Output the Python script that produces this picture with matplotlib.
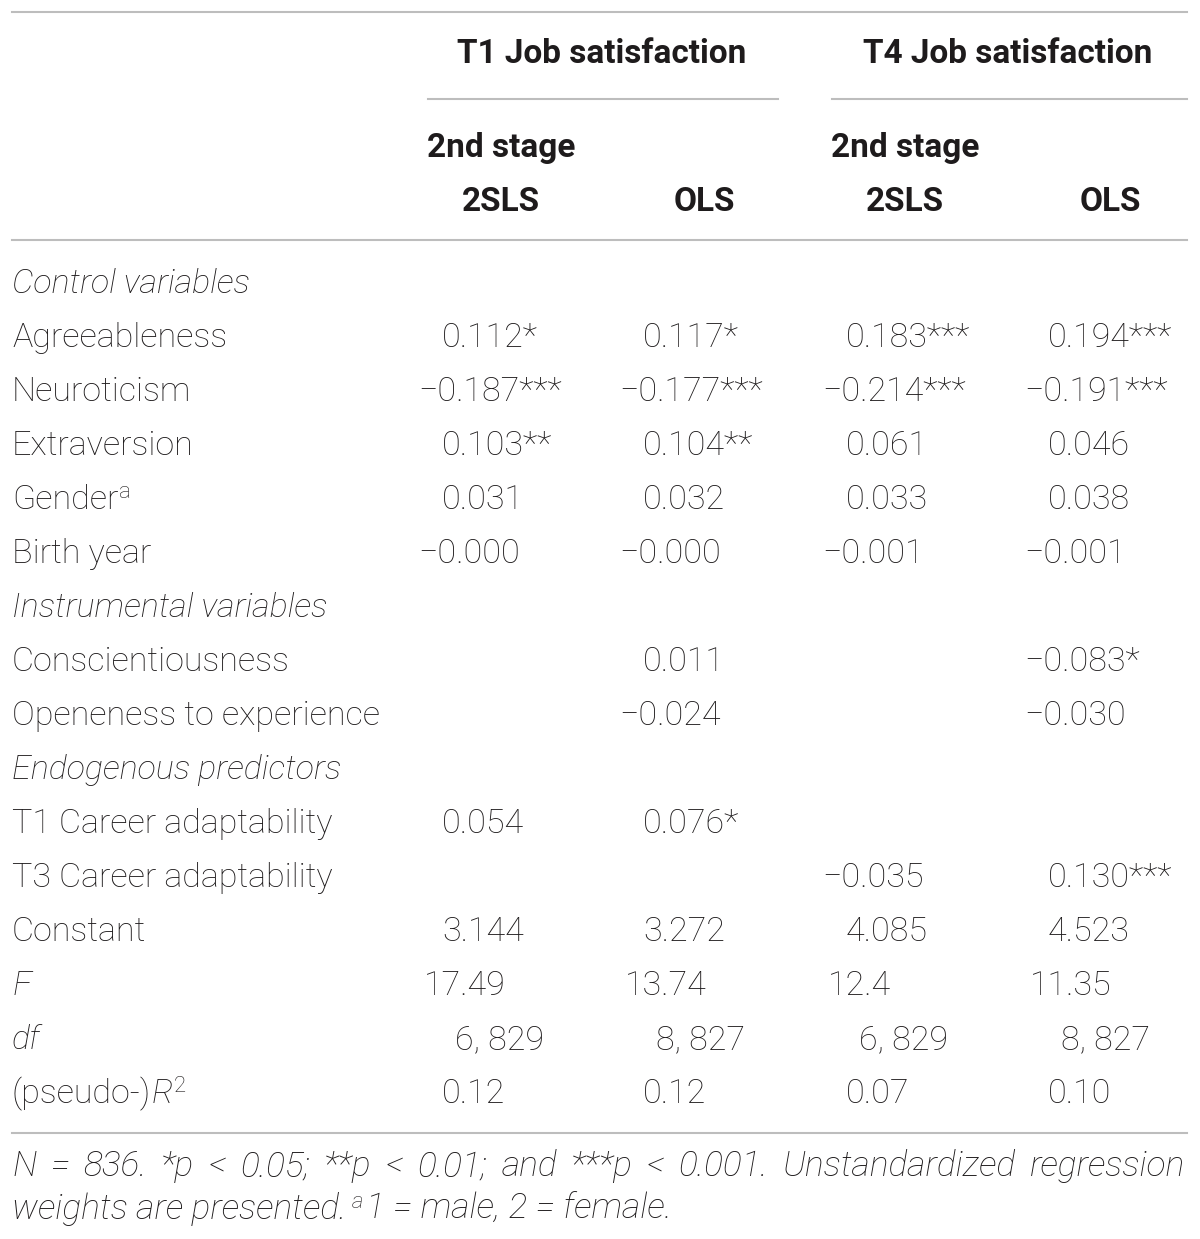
import matplotlib
matplotlib.use("Agg")
import matplotlib.pyplot as plt

# table content
row_labels = ["Control variables", "Agreeableness", "Neuroticism", "Extraversion",
              "Gender", "Birth year", "Instrumental variables", "Conscientiousness",
              "Openeness to experience", "Endogenous predictors", "T1 Career adaptability",
              "T3 Career adaptability", "Constant", "F", "df", "(pseudo-)"]
italic_rows = ["Control variables", "Instrumental variables", "Endogenous predictors", "F", "df"]
label_sup = {"Gender": "a"}

t1_2sls = ["", "0.112*", "\u22120.187***", "0.103**", "0.031", "\u22120.000", "", "", "",
           "", "0.054", "", "3.144", "17.49", "6, 829", "0.12"]
t1_ols = ["", "0.117*", "\u22120.177***", "0.104**", "0.032", "\u22120.000", "", "0.011",
          "\u22120.024", "", "0.076*", "", "3.272", "13.74", "8, 827", "0.12"]
t4_2sls = ["", "0.183***", "\u22120.214***", "0.061", "0.033", "\u22120.001", "", "", "",
           "", "", "\u22120.035", "4.085", "12.4", "6, 829", "0.07"]
t4_ols = ["", "0.194***", "\u22120.191***", "0.046", "0.038", "\u22120.001", "", "\u22120.083*",
          "\u22120.030", "", "", "0.130***", "4.523", "11.35", "8, 827", "0.10"]
columns = [t1_2sls, t1_ols, t4_2sls, t4_ols]

group_titles = ["T1 Job satisfaction", "T4 Job satisfaction"]
sub_top = ["2nd stage", "", "2nd stage", ""]
sub_bottom = ["2SLS", "OLS", "2SLS", "OLS"]

footnote1 = "N = 836. *p < 0.05; **p < 0.01; and ***p < 0.001. Unstandardized regression"
footnote2 = "weights are presented."
footnote3 = "1 = male, 2 = female."

W, H = 1200, 1239
FONT = "Roboto"
TXT = "#1e1b1c"
LINE = "#bdbdbd"
FS = 24.5
HFS = 24
NFS = 25.5

fig = plt.figure(figsize=(W / 100, H / 100), dpi=100)
ax = fig.add_axes([0, 0, 1, 1])
ax.set_xlim(0, W)
ax.set_ylim(H, 0)
ax.axis("off")

col_x = [442, 643, 846, 1048]
col_center = [501, 704, 905, 1110]
minus_off = 24
row_shift = {"F": -18, "df": 13}
base = 11  # row centre -> baseline

def txt(x, y, s, **kw):
    opts = dict(fontsize=FS, family=FONT, color=TXT, va="baseline", fontweight="light")
    opts.update(kw)
    return ax.text(x, y, s, **opts)

fig.canvas.draw()
renderer = fig.canvas.get_renderer()

def extent(t):
    bb = t.get_window_extent(renderer)
    return bb.x0, bb.x1  # pixel x (same as data x here)

# rules
ax.plot([12, 1187], [12, 12], color=LINE, lw=1.5)
ax.plot([428, 778], [99, 99], color=LINE, lw=1.5)
ax.plot([832, 1187], [99, 99], color=LINE, lw=1.5)
ax.plot([12, 1187], [240, 240], color=LINE, lw=1.5)
ax.plot([12, 1187], [1133, 1133], color=LINE, lw=1.5)

# header
hkw = dict(ha="center", fontweight="bold", fontsize=HFS)
for cx, title in zip([602, 1008], group_titles):
    txt(cx, 52 + base, title, **hkw)
for cx, top, bot in zip(col_center, sub_top, sub_bottom):
    if top:
        txt(cx, 146 + base, top, **hkw)
    txt(cx, 200 + base, bot, **hkw)

# body
y0, dy = 282, 54
for i, lab in enumerate(row_labels):
    y = y0 + i * dy + base
    style = "italic" if lab in italic_rows else "normal"
    t = txt(12, y, lab, ha="left", style=style)
    if lab in label_sup:
        txt(extent(t)[1] + 1, y - 11, label_sup[lab], ha="left", fontsize=16)
    if lab == "(pseudo-)":
        t2 = txt(extent(t)[1], y, "R", ha="left", style="italic")
        txt(extent(t2)[1] + 1, y - 11, "2", ha="left", fontsize=16)
    for cx, col in zip(col_x, columns):
        v = col[i]
        if not v:
            continue
        x = cx + row_shift.get(lab, 0)
        if v.startswith("\u2212"):
            x -= minus_off
        txt(x, y, v, ha="left")

# footnote, first line justified between the outer rules
words = footnote1.split(" ")
wtexts = [txt(0, 1165 + base, w, ha="left", style="italic", fontsize=NFS) for w in words]
widths = [extent(w)[1] - extent(w)[0] for w in wtexts]
gap = (1185 - 12 - sum(widths)) / (len(words) - 1)
x = 12
for w, wd in zip(wtexts, widths):
    w.set_x(x)
    x += wd + gap
t = txt(12, 1208 + base, footnote2, ha="left", style="italic", fontsize=NFS)
s = txt(extent(t)[1] + 6, 1208, "a", ha="left", style="italic", fontsize=16)
txt(extent(s)[1] + 2, 1208 + base, footnote3, ha="left", style="italic", fontsize=NFS)

fig.savefig("out.png", dpi=100)
